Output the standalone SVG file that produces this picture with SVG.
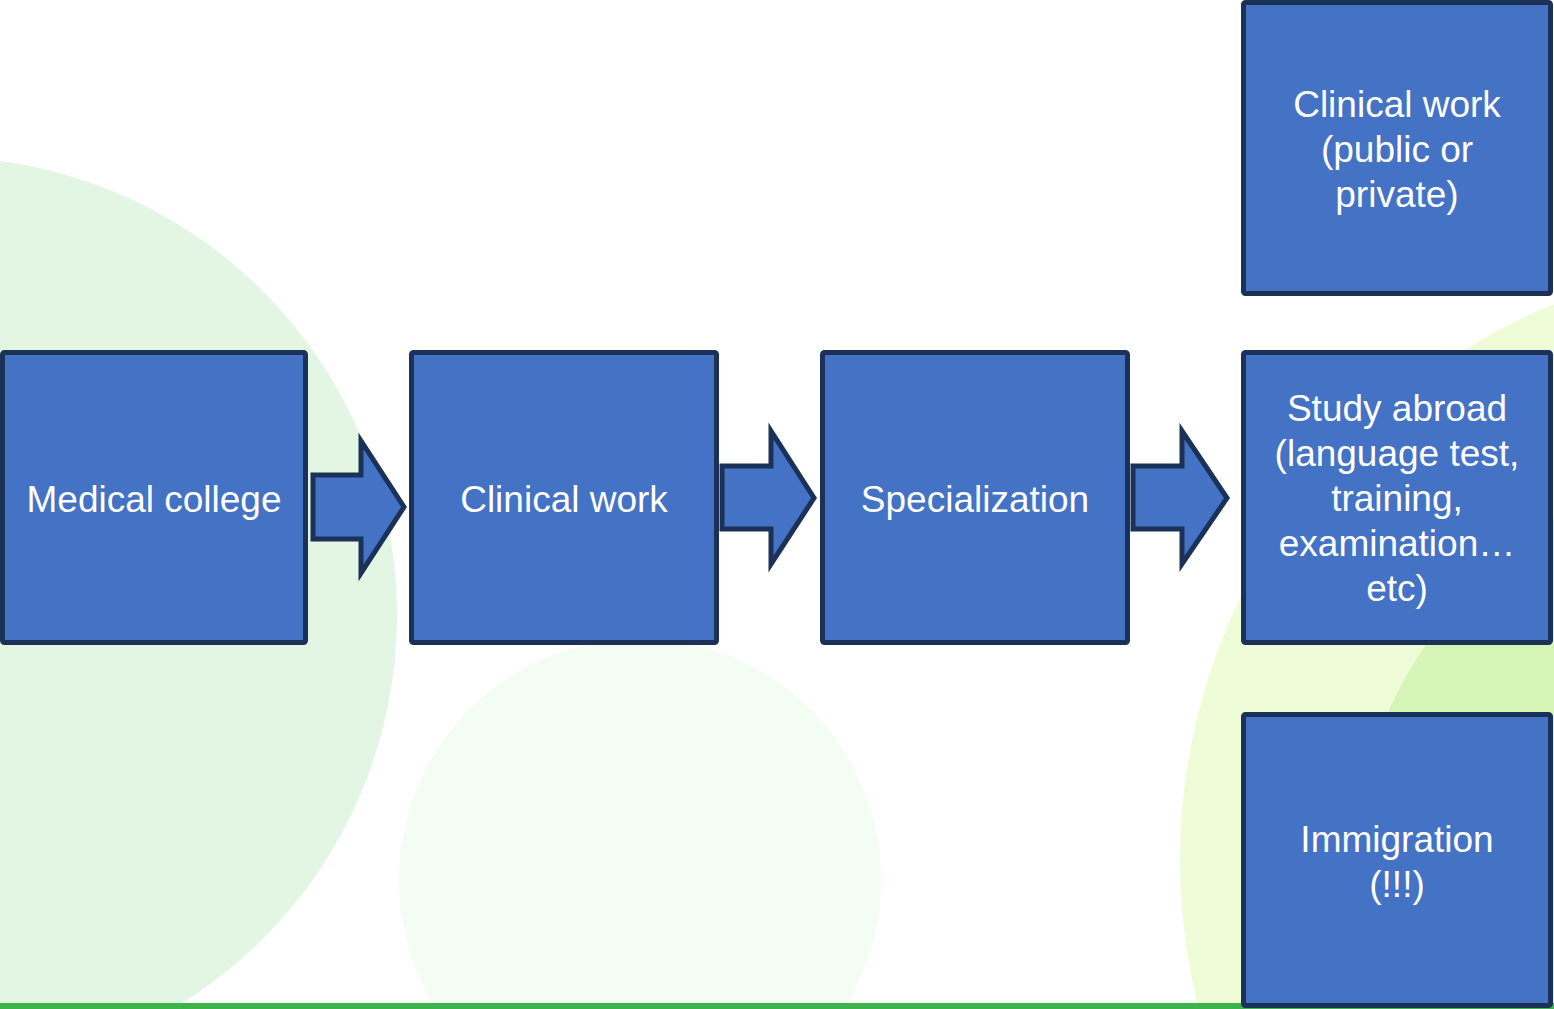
<svg xmlns="http://www.w3.org/2000/svg" width="1554" height="1009" viewBox="0 0 1554 1009">
  <style>
    .box { fill: #4472c4; stroke: #1b3157; stroke-width: 5; }
    .arrow { fill: #4472c4; stroke: #1b3157; stroke-width: 5; stroke-linejoin: miter; }
    .lbl { font-family: "Liberation Sans", Arial, sans-serif; font-size: 37px; fill: #ffffff; text-anchor: middle; }
  </style>
  <rect x="0" y="0" width="1554" height="1009" fill="#ffffff"/>
  <g id="background">
    <circle cx="-61" cy="615" r="458" fill="#e2f6e3"/>
    <circle cx="640" cy="880" r="241" fill="#f3fdf3"/>
    <circle cx="1780" cy="860" r="600" fill="#eefdd8"/>
    <circle cx="1800" cy="900" r="453" fill="#d5f6b7"/>
    <rect x="0" y="1003" width="1554" height="6" fill="#3cb44b"/>
  </g>
  <g id="connectors">
    <polygon class="arrow" points="313,475 361,475 361,441 404,507 361,573 361,539 313,539"/>
    <polygon class="arrow" points="722,466 771,466 771,431 814,498 771,564 771,529 722,529"/>
    <polygon class="arrow" points="1133,466 1182,466 1182,431 1227,498 1182,564 1182,529 1133,529"/>
  </g>
  <g id="node-medical-college">
    <rect class="box" x="2.5" y="352.5" width="303" height="290" rx="2"/>
    <text class="lbl" x="154" y="512">Medical college</text>
  </g>
  <g id="node-clinical-work">
    <rect class="box" x="411.5" y="352.5" width="305" height="290" rx="2"/>
    <text class="lbl" x="564" y="512">Clinical work</text>
  </g>
  <g id="node-specialization">
    <rect class="box" x="822.5" y="352.5" width="305" height="290" rx="2"/>
    <text class="lbl" x="975" y="512">Specialization</text>
  </g>
  <g id="node-clinical-public-private">
    <rect class="box" x="1243.5" y="2.5" width="307" height="291" rx="2"/>
    <text class="lbl" x="1397" y="117">Clinical work</text>
    <text class="lbl" x="1397" y="162">(public or</text>
    <text class="lbl" x="1397" y="207">private)</text>
  </g>
  <g id="node-study-abroad">
    <rect class="box" x="1243.5" y="352.5" width="307" height="290" rx="2"/>
    <text class="lbl" x="1397" y="421">Study abroad</text>
    <text class="lbl" x="1397" y="466">(language test,</text>
    <text class="lbl" x="1397" y="511">training,</text>
    <text class="lbl" x="1397" y="556">examination…</text>
    <text class="lbl" x="1397" y="601">etc)</text>
  </g>
  <g id="node-immigration">
    <rect class="box" x="1243.5" y="714.5" width="307" height="291" rx="2"/>
    <text class="lbl" x="1397" y="852">Immigration</text>
    <text class="lbl" x="1397" y="897">(!!!)</text>
  </g>
</svg>
